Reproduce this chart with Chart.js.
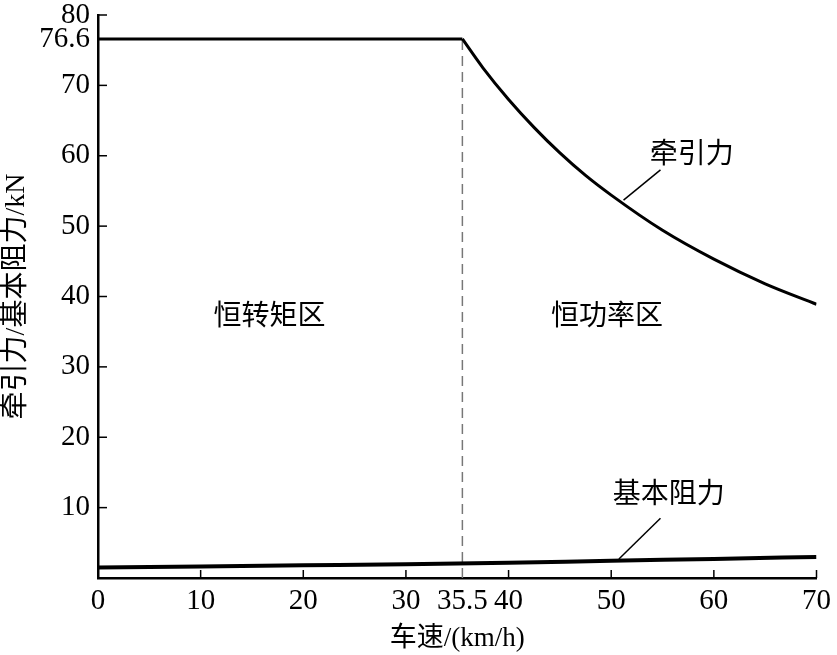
<!DOCTYPE html>
<html>
<head>
<meta charset="utf-8">
<script src="https://cdn.jsdelivr.net/npm/chart.js@4.4.0/dist/chart.umd.min.js"></script>
<style>
  html, body { margin: 0; padding: 0; background: #fff; }
  #wrap { width: 837px; height: 655px; }
</style>
</head>
<body>
<div id="wrap"><canvas id="forceChart" width="837" height="655"></canvas></div>
<script>
// values
const tractionSpeed = [0, 35.5, 37.5, 40, 42.5, 45, 47.5, 50, 55, 60, 65, 70];
const tractionForce = [76.6, 76.6, 72.5, 68.0, 64.0, 60.4, 57.2, 54.4, 49.4, 45.3, 41.8, 38.9];
const resistSpeed = [0, 10, 20, 30, 40, 50, 60, 70];
const resistForce = [1.5, 1.65, 1.8, 1.95, 2.15, 2.45, 2.7, 3.0];
const xTicks = [0, 10, 20, 30, 35.5, 40, 50, 60, 70];
const yTicks = [10, 20, 30, 40, 50, 60, 70, 76.6, 80];
const baseSpeed = 35.5;
const maxForce = 76.6;

const serif = '"Liberation Serif", "Noto Sans CJK SC", serif';
const cjk = '"Noto Sans CJK SC", sans-serif';

const toPts = (xs, ys) => xs.map((x, i) => ({ x: x, y: ys[i] }));
const tractionPts = toPts(tractionSpeed, tractionForce);
const bend = tractionSpeed.indexOf(baseSpeed);

// inward tick marks + region / curve labels
const decor = {
  id: 'decor',
  afterDraw(chart) {
    const ctx = chart.ctx;
    const xs = chart.scales.x, ys = chart.scales.y;
    const area = chart.chartArea;
    ctx.save();
    ctx.strokeStyle = '#000';
    ctx.lineWidth = 1.5;
    xTicks.forEach(v => {
      if (v === 0 || v === baseSpeed) return;
      const px = xs.getPixelForValue(v);
      ctx.beginPath();
      ctx.moveTo(px, area.bottom);
      ctx.lineTo(px, area.bottom - 8);
      ctx.stroke();
    });
    yTicks.forEach(v => {
      if (v === maxForce) return;
      const py = ys.getPixelForValue(v);
      ctx.beginPath();
      ctx.moveTo(area.left, py);
      ctx.lineTo(area.left + 9, py);
      ctx.stroke();
    });
    ctx.fillStyle = '#000';
    ctx.font = '28px ' + cjk;
    ctx.textAlign = 'center';
    ctx.textBaseline = 'middle';
    ctx.fillText('恒转矩区', xs.getPixelForValue(16.7), ys.getPixelForValue(37.5));
    ctx.fillText('恒功率区', xs.getPixelForValue(49.6), ys.getPixelForValue(37.5));
    ctx.fillText('牵引力', xs.getPixelForValue(57.85), ys.getPixelForValue(60.5));
    ctx.fillText('基本阻力', xs.getPixelForValue(55.6), ys.getPixelForValue(12.2));
    ctx.restore();
  }
};

new Chart(document.getElementById('forceChart'), {
  type: 'line',
  data: {
    datasets: [
      {
        label: '牵引力',
        data: tractionPts.slice(0, bend + 1),
        borderColor: '#000',
        borderWidth: 3,
        pointRadius: 0
      },
      {
        label: '牵引力 (恒功率)',
        data: tractionPts.slice(bend),
        borderColor: '#000',
        borderWidth: 3,
        cubicInterpolationMode: 'monotone',
        pointRadius: 0
      },
      {
        label: '基本阻力',
        data: toPts(resistSpeed, resistForce),
        borderColor: '#000',
        borderWidth: 4,
        cubicInterpolationMode: 'monotone',
        pointRadius: 0
      },
      {
        label: 'split',
        data: [{ x: baseSpeed, y: 0 }, { x: baseSpeed, y: maxForce }],
        borderColor: '#777',
        borderWidth: 1.5,
        borderDash: [10, 6],
        pointRadius: 0
      },
      {
        label: 'lead1',
        data: [{ x: 51.2, y: 53.7 }, { x: 54.8, y: 58.0 }],
        borderColor: '#000',
        borderWidth: 1.5,
        pointRadius: 0
      },
      {
        label: 'lead2',
        data: [{ x: 50.75, y: 2.7 }, { x: 54.8, y: 8.5 }],
        borderColor: '#000',
        borderWidth: 1.5,
        pointRadius: 0
      }
    ]
  },
  options: {
    responsive: false,
    animation: false,
    layout: { padding: { top: 15, right: 16, left: 0, bottom: 0 } },
    plugins: { legend: { display: false }, tooltip: { enabled: false } },
    scales: {
      x: {
        type: 'linear',
        min: 0,
        max: 70,
        afterBuildTicks: s => { s.ticks = xTicks.map(v => ({ value: v })); },
        afterFit: s => { s.height = 77; },
        grid: { display: false, drawTicks: false },
        border: { color: '#000', width: 2.5 },
        ticks: {
          color: '#000',
          font: { family: serif, size: 29 },
          padding: 6,
          maxRotation: 0,
          autoSkip: false,
          callback: v => String(v)
        },
        title: {
          display: true,
          text: '车速/(km/h)',
          color: '#000',
          font: { family: serif, size: 27 },
          padding: { top: 0, bottom: 0 }
        }
      },
      y: {
        type: 'linear',
        min: 0,
        max: 80,
        afterBuildTicks: s => { s.ticks = yTicks.map(v => ({ value: v })); },
        afterFit: s => { s.width = 98; s.paddingTop = 0; },
        grid: { display: false, drawTicks: false },
        border: { color: '#000', width: 2.5 },
        ticks: {
          color: '#000',
          font: { family: serif, size: 29 },
          padding: 8,
          autoSkip: false,
          callback: v => String(v)
        },
        title: {
          display: true,
          text: '牵引力/基本阻力/kN',
          color: '#000',
          font: { family: serif, size: 28 },
          padding: { top: 0, bottom: 0 }
        }
      }
    }
  },
  plugins: [decor]
});
</script>
</body>
</html>
